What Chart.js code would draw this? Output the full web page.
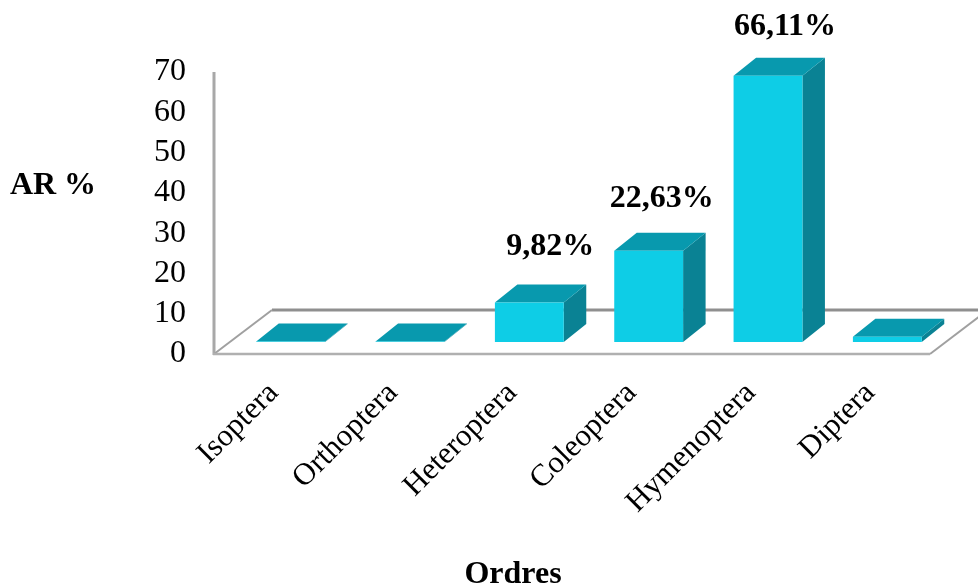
<!DOCTYPE html>
<html lang="fr">
<head>
  <meta charset="UTF-8">
  <title>AR % par ordre</title>
  <script src="https://cdn.jsdelivr.net/npm/chart.js"></script>
  <style>
    html, body { margin: 0; padding: 0; background: white; overflow: hidden; }
    canvas { display: block; }
  </style>
</head>
<body>
  <canvas id="arChart" width="978" height="586"></canvas>

  <script>
    const ordres = ['Isoptera', 'Orthoptera', 'Heteroptera', 'Coleoptera', 'Hymenoptera', 'Diptera'];
    const arValues = [0.15, 0.15, 9.82, 22.63, 66.11, 1.3];
    const arLabels = ['', '', '9,82%', '22,63%', '66,11%', ''];
    const yTicks = [0, 10, 20, 30, 40, 50, 60, 70];

    // hand placement of the value labels, relative to each bar
    const labelShiftX = [0, 0, 21, 13, 17, 0];
    const labelLift = [0, 0, 68, 64.5, 60.6, 0];
    const serif = "'Liberation Serif', 'Times New Roman', serif";

    // floor + walls, and the 3D faces of the bars (Chart.js only does flat bars)
    const depth = { x: 22.5, y: 18 };
    const floor = { x: 58, y: 44 };
    const barShift = { x: 17, y: 12 };

    function line(ctx, x1, y1, x2, y2, color, w) {
      ctx.strokeStyle = color;
      ctx.lineWidth = w;
      ctx.beginPath();
      ctx.moveTo(x1, y1);
      ctx.lineTo(x2, y2);
      ctx.stroke();
    }

    function face(ctx, pts, color) {
      ctx.fillStyle = color;
      ctx.beginPath();
      pts.forEach((p, i) => i ? ctx.lineTo(p[0], p[1]) : ctx.moveTo(p[0], p[1]));
      ctx.closePath();
      ctx.fill();
    }

    const box3d = {
      id: 'box3d',
      beforeDatasetsDraw(chart) {
        const ctx = chart.ctx;
        const { left, right, top, bottom } = chart.chartArea;
        line(ctx, left + floor.x, bottom - floor.y, chart.width, bottom - floor.y, '#8f8f8f', 3);
        line(ctx, left, top, left, bottom + 1, '#a8a8a8', 3);
        line(ctx, left, bottom, left + floor.x, bottom - floor.y, '#a0a0a0', 2);
        line(ctx, right, bottom, right + floor.x, bottom - floor.y, '#a0a0a0', 2);
        line(ctx, left - 1, bottom, right, bottom, '#b0b0b0', 2.5);

        ctx.save();
        ctx.translate(barShift.x, -barShift.y);
        chart.getDatasetMeta(0).data.forEach(bar => {
          const { x, y, base, width } = bar.getProps(['x', 'y', 'base', 'width']);
          const l = x - width / 2, r = x + width / 2;
          face(ctx, [[r, y], [r + depth.x, y - depth.y], [r + depth.x, base - depth.y], [r, base]], '#0a8294');
          face(ctx, [[l, y], [r, y], [r + depth.x, y - depth.y], [l + depth.x, y - depth.y]], '#0899ae');
        });
      },
      afterDatasetsDraw(chart) {
        const ctx = chart.ctx;
        ctx.restore();
        ctx.fillStyle = '#000';
        ctx.textAlign = 'center';
        ctx.textBaseline = 'middle';
        ctx.font = 'bold 32px ' + serif;
        chart.getDatasetMeta(0).data.forEach((bar, i) => {
          if (arLabels[i]) ctx.fillText(arLabels[i], bar.x + barShift.x + labelShiftX[i], bar.y - labelLift[i]);
        });
        ctx.fillText('AR %', 53, 186);
        ctx.fillText('Ordres', 513, 575);
      }
    };

    new Chart(document.getElementById('arChart'), {
      type: 'bar',
      data: {
        labels: ordres,
        datasets: [{
          label: 'AR %',
          data: arValues,
          backgroundColor: '#0ecde6',
          borderWidth: 0,
          categoryPercentage: 1,
          barPercentage: 0.577
        }]
      },
      plugins: [box3d],
      options: {
        responsive: false,
        animation: false,
        layout: { padding: { top: 72, right: 48, left: 0, bottom: 0 } },
        plugins: { legend: { display: false }, tooltip: { enabled: false } },
        scales: {
          x: {
            afterFit(axis) { axis.height = 232; },
            grid: { display: false },
            border: { display: false },
            ticks: {
              autoSkip: false,
              minRotation: 45,
              maxRotation: 45,
              padding: 13,
              color: '#000',
              font: { family: serif, size: 31 }
            }
          },
          y: {
            min: 0,
            max: 70,
            afterFit(axis) { axis.width = 214; },
            afterBuildTicks(axis) { axis.ticks = yTicks.map(v => ({ value: v })); },
            grid: { display: false },
            border: { display: false },
            ticks: {
              autoSkip: false,
              padding: 20,
              color: '#000',
              font: { family: serif, size: 32 }
            }
          }
        }
      }
    });
  </script>
</body>
</html>
